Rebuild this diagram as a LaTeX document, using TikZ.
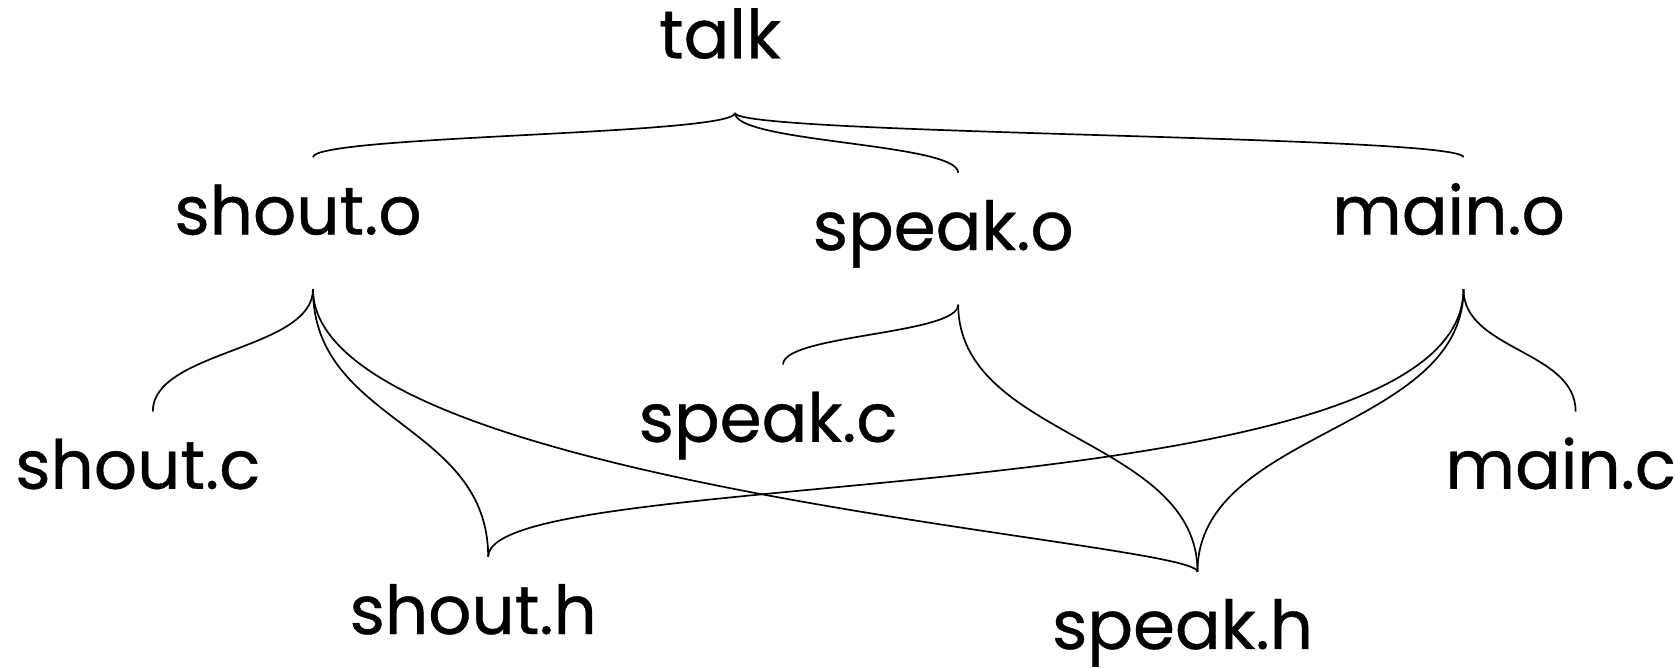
\documentclass[tikz,border=0pt]{standalone}
\usepackage{fontspec}
\setmainfont{Poppins}[FakeBold=0.6]
\usepackage{tikz}
\usetikzlibrary{calc}
\tikzset{
    Link/.style 2 args = {
        line width = 0.45pt,
        to path = {
            let \p1 = (\tikztostart), \p2 = (\tikztotarget), \n1 = {\y2-\y1} in
            .. controls (\x1, {\y1+#1*\n1}) and (\x2, {\y2-#2*\n1}) .. (\tikztotarget)
        }
    },
    Link/.default = {0.5}{0.5}
}

\begin{document}
\begin{tikzpicture}[
x = 0.01cm, y = -0.01cm,
file/.style={
    font = \fontsize{18}{20}\selectfont,
    inner xsep = 0pt,
    inner ysep = 0pt,
    text height = 6pt,
    text depth = 0pt,
    minimum height = 1.22cm,
    execute at end node = {\kern2.8mm}
    }
]
\useasboundingbox (0,0) rectangle (1568,625);

\node [file] (1) at (688, 44) {talk};
\node [file] (2) at (293, 209) {shout.o};
\node [file] (3) at (897, 223.5) {speak.o};
\node [file] (4) at (1370, 209) {main.o};
\node [file] (5) at (143, 447) {shout.c};
\node [file] (6) at (733, 403) {speak.c};
\node [file] (7) at (1475, 447) {main.c};
\node [file] (8) at (457, 583) {shout.h};
\node [file] (9) at (1121, 597) {speak.h};

\draw[Link] (1.south) to (2.north);
\draw[Link] (1.south) to (3.north);
\draw[Link] (1.south) to (4.north);

\draw[Link] (2.south) to (5.north);
\draw[Link] (2.south) to (8.north);
\draw[Link={0.7}{0.11}] (2.south) to (9.north);

\draw[Link] (3.south) to (6.north);
\draw[Link] (3.south) to (9.north);

\draw[Link={0.85}{0.35}] (4.south) to (8.north);
\draw[Link] (4.south) to (9.north);
\draw[Link] (4.south) to (7.north);

\end{tikzpicture}
\end{document}
